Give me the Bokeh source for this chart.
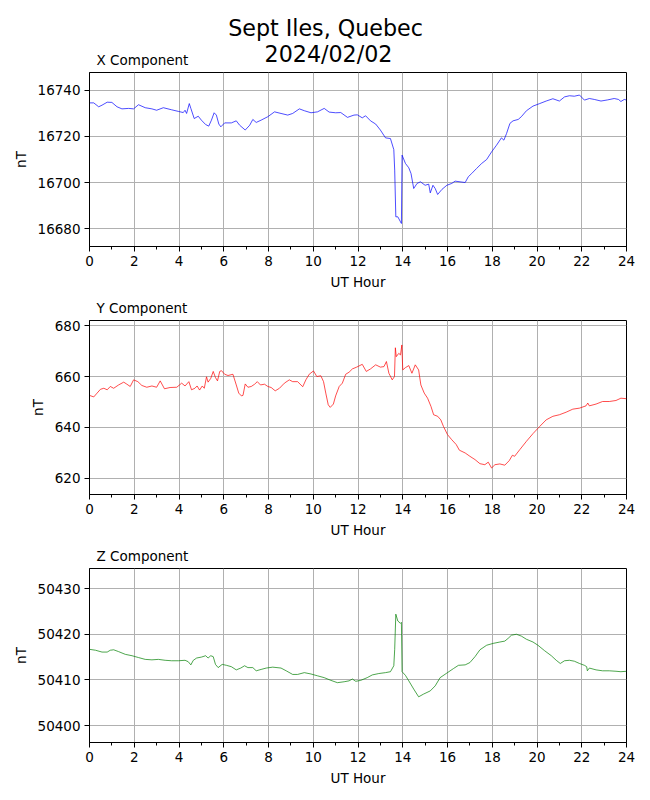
from bokeh.plotting import figure
from bokeh.models import Range1d, FixedTicker, Label
from bokeh.layouts import column
from bokeh.embed import file_html
from bokeh.resources import INLINE

TITLE_1 = "Sept Iles, Quebec"
TITLE_2 = "2024/02/02"
X_AXIS_LABEL = "UT Hour"
Y_AXIS_LABEL = "nT"
HOUR_TICKS = list(range(0, 25, 2))
HOUR_MINOR = list(range(0, 25))

# X component (nT)
x_hours = [0.0, 0.19, 0.41, 0.56, 0.79, 1.0, 1.23, 1.45, 1.75, 1.97, 2.19, 2.49, 2.79, 3.0, 3.3,
           3.67, 3.97, 4.19, 4.27, 4.34, 4.46, 4.53, 4.68, 4.86, 5.0, 5.19, 5.33, 5.45, 5.57, 5.67,
           5.78, 5.87, 6.04, 6.34, 6.56, 6.71, 6.96, 7.16, 7.3, 7.45, 7.67, 7.97, 8.27, 8.56, 8.86,
           9.08, 9.38, 9.6, 9.9, 10.19, 10.49, 10.71, 11.0, 11.23, 11.53, 11.82, 11.97, 12.19, 12.34,
           12.56, 12.79, 13.0, 13.23, 13.45, 13.6, 13.64, 13.69, 13.78, 13.9, 13.94, 13.97, 14.12,
           14.27, 14.37, 14.49, 14.64, 14.79, 15.0, 15.16, 15.23, 15.35, 15.45, 15.56, 15.75, 15.97,
           16.19, 16.34, 16.56, 16.79, 16.93, 17.08, 17.3, 17.53, 17.75, 17.97, 18.19, 18.41, 18.52,
           18.64, 18.79, 18.93, 19.16, 19.3, 19.53, 19.82, 20.12, 20.41, 20.71, 21.0, 21.23, 21.45,
           21.67, 21.9, 22.12, 22.34, 22.56, 22.86, 23.16, 23.45, 23.64, 23.75, 23.9, 24.0]
x_values = [16734.6, 16734.6, 16732.9, 16733.6, 16734.9, 16734.8, 16732.9, 16732.0, 16732.2, 16732.0,
            16733.8, 16732.5, 16732.0, 16731.4, 16732.5, 16731.6, 16730.9, 16730.4, 16731.4, 16730.0,
            16734.3, 16732.2, 16727.8, 16728.8, 16727.1, 16725.2, 16724.5, 16727.1, 16730.3, 16729.3,
            16725.4, 16724.2, 16725.9, 16725.9, 16726.8, 16724.9, 16722.8, 16724.9, 16727.4, 16726.1,
            16727.1, 16728.6, 16730.7, 16730.0, 16729.3, 16730.0, 16732.0, 16731.2, 16730.3, 16730.7,
            16732.2, 16730.6, 16730.3, 16730.4, 16728.3, 16729.3, 16729.4, 16728.1, 16729.0, 16726.8,
            16725.4, 16722.8, 16719.4, 16719.1, 16714.3, 16705.4, 16685.1, 16685.1, 16682.9, 16682.2,
            16711.9, 16708.3, 16706.4, 16703.9, 16697.4, 16699.6, 16700.3, 16698.8, 16699.3, 16695.5,
            16698.8, 16697.4, 16694.8, 16697.0, 16698.8, 16699.6, 16700.6, 16700.3, 16700.0, 16702.5,
            16703.9, 16706.1, 16708.3, 16710.0, 16713.3, 16716.2, 16719.4, 16718.4, 16721.3, 16725.7,
            16726.8, 16727.4, 16728.6, 16731.2, 16733.2, 16734.3, 16735.4, 16736.4, 16735.4, 16737.2,
            16737.7, 16737.5, 16738.0, 16735.8, 16736.5, 16736.1, 16735.4, 16735.9, 16736.5, 16736.1,
            16735.2, 16736.1, 16735.8]
x_ticks = [16680, 16700, 16720, 16740]

# Y component (nT)
y_hours = [0.0, 0.19, 0.34, 0.49, 0.64, 0.79, 0.93, 1.08, 1.3, 1.53, 1.67, 1.82, 1.97, 2.16, 2.34,
           2.56, 2.79, 3.0, 3.16, 3.35, 3.6, 3.9, 4.12, 4.27, 4.44, 4.56, 4.71, 4.81, 4.92, 5.04,
           5.13, 5.23, 5.3, 5.42, 5.53, 5.63, 5.72, 5.82, 5.9, 6.04, 6.19, 6.41, 6.56, 6.67, 6.79,
           6.86, 6.96, 7.08, 7.23, 7.38, 7.5, 7.64, 7.82, 7.97, 8.12, 8.3, 8.49, 8.71, 8.93, 9.08,
           9.3, 9.53, 9.67, 9.82, 10.01, 10.16, 10.34, 10.46, 10.56, 10.67, 10.76, 10.9, 11.0, 11.16,
           11.3, 11.45, 11.6, 11.75, 11.94, 12.19, 12.37, 12.56, 12.79, 13.0, 13.16, 13.27, 13.38,
           13.53, 13.63, 13.67, 13.71, 13.82, 13.9, 13.96, 14.0, 14.12, 14.27, 14.41, 14.56, 14.71,
           14.81, 14.96, 15.11, 15.26, 15.38, 15.56, 15.7, 15.82, 16.0, 16.19, 16.39, 16.53, 16.79,
           17.0, 17.23, 17.45, 17.67, 17.82, 17.97, 18.12, 18.34, 18.56, 18.76, 18.9, 19.0, 19.23,
           19.53, 19.82, 20.12, 20.41, 20.71, 21.0, 21.3, 21.6, 21.9, 22.19, 22.27, 22.34, 22.64,
           22.93, 23.23, 23.53, 23.75, 24.0]
y_values = [652.6, 652.0, 653.5, 655.0, 655.4, 654.8, 656.1, 655.4, 656.7, 657.8, 657.0, 656.1, 658.7,
            658.0, 656.5, 655.8, 656.3, 655.8, 658.3, 655.2, 655.7, 655.8, 657.4, 656.3, 658.0, 654.8,
            655.4, 656.3, 654.7, 656.3, 655.4, 659.9, 657.8, 659.3, 662.0, 659.6, 658.3, 662.0, 662.3,
            660.9, 660.4, 660.9, 656.7, 653.5, 652.4, 652.6, 657.1, 655.8, 656.1, 657.0, 658.0, 656.7,
            657.0, 656.1, 655.7, 654.4, 655.4, 657.4, 658.7, 658.0, 658.0, 656.0, 658.7, 660.9, 662.2,
            660.0, 660.3, 658.0, 653.5, 648.9, 647.9, 649.2, 652.4, 656.1, 657.4, 660.9, 661.7, 663.0,
            663.7, 664.8, 662.0, 663.0, 664.6, 663.7, 663.9, 665.9, 661.3, 658.7, 660.0, 671.3, 667.8,
            669.1, 668.5, 672.4, 662.6, 663.5, 664.3, 661.3, 664.6, 662.6, 656.7, 653.5, 651.5, 648.3,
            645.0, 644.4, 643.0, 640.4, 637.2, 635.2, 633.3, 631.1, 630.0, 628.7, 627.4, 625.8, 625.4,
            626.4, 624.1, 625.4, 625.7, 625.2, 627.0, 629.1, 628.7, 631.3, 634.6, 637.6, 640.4, 643.0,
            644.4, 645.0, 646.0, 647.2, 647.6, 648.5, 649.6, 648.5, 649.2, 650.2, 650.2, 650.6, 651.5,
            651.3]
y_ticks = [620, 640, 660, 680]

# Z component (nT)
z_hours = [0.0, 0.27, 0.56, 0.79, 0.93, 1.08, 1.3, 1.6, 1.9, 2.19, 2.49, 2.79, 3.08, 3.38, 3.67,
           3.97, 4.27, 4.41, 4.53, 4.64, 4.79, 5.0, 5.19, 5.3, 5.42, 5.53, 5.63, 5.75, 5.93, 6.12,
           6.34, 6.56, 6.76, 6.93, 7.08, 7.3, 7.45, 7.67, 7.9, 8.19, 8.56, 8.79, 9.08, 9.3, 9.6,
           9.9, 10.19, 10.49, 10.79, 11.08, 11.38, 11.6, 11.75, 11.9, 12.12, 12.41, 12.64, 12.93,
           13.23, 13.45, 13.6, 13.64, 13.69, 13.78, 13.9, 13.94, 13.97, 14.12, 14.27, 14.49, 14.71,
           14.93, 15.23, 15.45, 15.67, 15.97, 16.27, 16.49, 16.79, 17.0, 17.23, 17.45, 17.75, 18.04,
           18.34, 18.56, 18.71, 18.86, 19.08, 19.3, 19.53, 19.82, 20.04, 20.34, 20.64, 20.86, 21.04,
           21.23, 21.45, 21.67, 21.9, 22.12, 22.22, 22.25, 22.34, 22.64, 22.93, 23.23, 23.53, 23.75,
           24.0]
z_values = [50416.7, 50416.5, 50416.1, 50416.1, 50416.5, 50416.6, 50416.2, 50415.6, 50415.3, 50414.9,
            50414.5, 50414.4, 50414.5, 50414.3, 50414.2, 50414.2, 50414.3, 50414.0, 50413.3, 50414.3,
            50414.8, 50415.0, 50415.3, 50414.8, 50415.3, 50415.1, 50413.4, 50412.7, 50413.4, 50413.2,
            50412.9, 50412.2, 50412.6, 50413.1, 50412.7, 50412.7, 50412.0, 50412.3, 50412.6, 50412.8,
            50412.6, 50412.0, 50411.2, 50411.2, 50411.6, 50411.3, 50410.9, 50410.5, 50409.9, 50409.4,
            50409.6, 50409.8, 50410.2, 50409.7, 50409.9, 50410.5, 50411.1, 50411.4, 50411.6, 50411.8,
            50413.1, 50416.7, 50424.4, 50422.9, 50422.4, 50422.6, 50411.8, 50411.0, 50409.8, 50408.0,
            50406.3, 50406.9, 50407.6, 50408.7, 50410.5, 50411.5, 50412.5, 50413.2, 50413.3, 50413.8,
            50415.1, 50416.6, 50417.6, 50418.0, 50418.3, 50418.5, 50419.1, 50419.8, 50420.0, 50419.6,
            50418.9, 50418.3, 50417.6, 50416.4, 50415.3, 50414.3, 50413.6, 50414.2, 50414.3, 50414.1,
            50413.6, 50413.2, 50412.9, 50412.0, 50412.6, 50412.2, 50412.0, 50412.0, 50411.9, 50411.8,
            50411.9]
z_ticks = [50400, 50410, 50420, 50430]

FONT = "DejaVu Sans"
FRAME_W, FRAME_H = 537, 174
HEADER_H = 72


def make_panel(hours, values, color, yrange, yticks, name, top, bottom):
    p = figure(frame_width=FRAME_W, frame_height=FRAME_H,
               min_border_left=89, min_border_right=24,
               min_border_top=top, min_border_bottom=bottom,
               x_range=Range1d(0, 24), y_range=Range1d(*yrange),
               output_backend="svg", toolbar_location=None)
    p.line(hours, values, line_color=color, line_width=0.7)

    xt = FixedTicker(ticks=HOUR_TICKS, minor_ticks=HOUR_MINOR)
    yt = FixedTicker(ticks=yticks, minor_ticks=[])
    p.xaxis.ticker = xt
    p.yaxis.ticker = yt
    p.xgrid.ticker = xt
    p.ygrid.ticker = yt
    for g in (p.xgrid, p.ygrid):
        g.grid_line_color = "#b0b0b0"
        g.grid_line_width = 1
    p.xaxis.axis_label = X_AXIS_LABEL
    p.yaxis.axis_label = Y_AXIS_LABEL
    for ax in (p.xaxis, p.yaxis):
        ax.axis_label_text_font = FONT
        ax.axis_label_text_font_size = "13.5px"
        ax.axis_label_text_font_style = "normal"
        ax.axis_label_text_color = "black"
        ax.major_label_text_font = FONT
        ax.major_label_text_font_size = "13.5px"
        ax.major_label_text_color = "black"
        ax.axis_line_color = "black"
        ax.major_tick_line_color = "black"
        ax.minor_tick_line_color = "black"
        ax.major_tick_in = 0
        ax.major_tick_out = 5
        ax.minor_tick_in = 0
        ax.minor_tick_out = 3
        ax.major_label_standoff = 4
        ax.axis_label_standoff = 5
    p.yaxis.axis_label_standoff = 6
    p.yaxis.minor_tick_out = 0
    p.outline_line_color = "black"
    p.outline_line_alpha = 1.0
    p.outline_line_width = 1
    p.background_fill_color = "white"
    p.border_fill_color = "white"

    if name:
        p.title.text = name
        p.title.align = "left"
        p.title.offset = 7
        p.title.text_font = FONT
        p.title.text_font_size = "13.5px"
        p.title.text_font_style = "normal"
        p.title.text_color = "black"
        p.title.standoff = 10
    return p


# header strip: main title and the first panel's caption (frame aligned with the panels)
header = figure(frame_width=FRAME_W, frame_height=HEADER_H,
                min_border_left=89, min_border_right=24, min_border_top=0, min_border_bottom=0,
                x_range=Range1d(0, FRAME_W), y_range=Range1d(0, HEADER_H),
                x_axis_type=None, y_axis_type=None, output_backend="svg",
                toolbar_location=None, outline_line_color=None)
header.xgrid.visible = False
header.ygrid.visible = False
header.add_layout(Label(x=236, y=45, text=TITLE_1, text_font=FONT,
                        text_font_size="22.2px", text_align="center",
                        text_baseline="alphabetic", text_color="black"))
header.add_layout(Label(x=239, y=19, text=TITLE_2, text_font=FONT,
                        text_font_size="22.2px", text_align="center",
                        text_baseline="alphabetic", text_color="black"))
header.add_layout(Label(x=7, y=13, text="X Component", text_font=FONT,
                        text_font_size="13.5px", text_align="left",
                        text_baseline="alphabetic", text_color="black"))

p1 = make_panel(x_hours, x_values, "blue", (16672.2, 16747.8), x_ticks, None, 0, 46)
p2 = make_panel(y_hours, y_values, "red", (613.7, 682.0), y_ticks, "Y Component", 27, 45)
p3 = make_panel(z_hours, z_values, "green", (50396.3, 50434.4), z_ticks, "Z Component", 27, 50)

layout = column(header, p1, p2, p3)
open("out.html", "w").write(file_html(layout, INLINE))
